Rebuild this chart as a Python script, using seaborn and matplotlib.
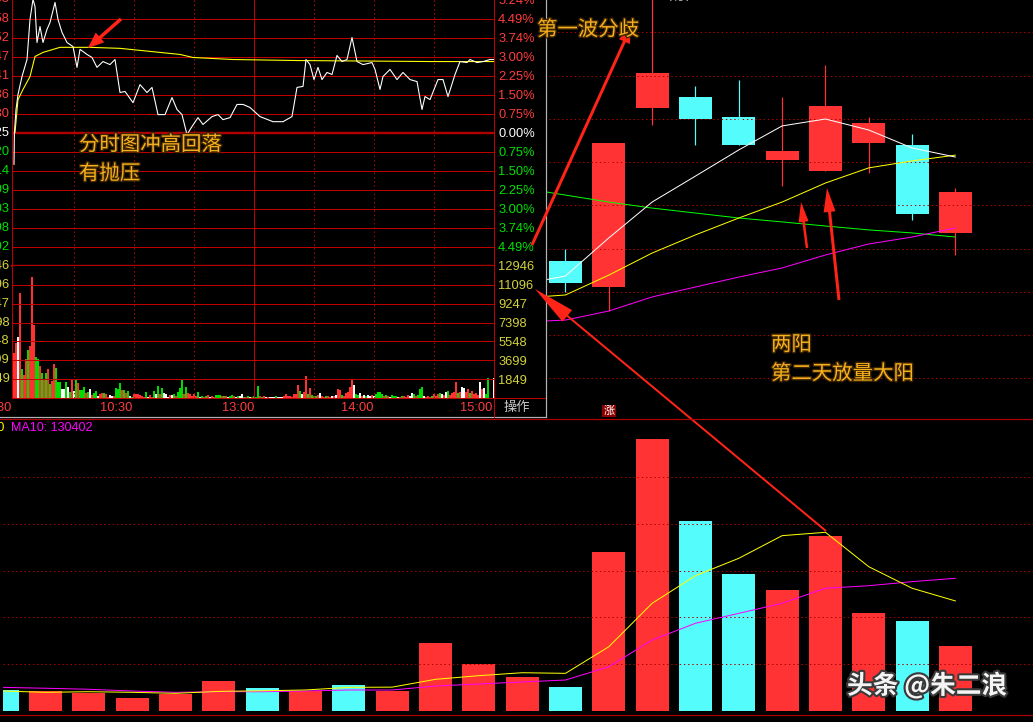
import matplotlib
matplotlib.use('Agg')
import numpy as np
import matplotlib.pyplot as plt
import matplotlib.patheffects as pe
from matplotlib.patches import FancyArrow, Rectangle
import seaborn as sns

# ─── INTRADAY DATA (minutes from 09:30, % vs previous close) ─────────────────
PREV_CLOSE = 7.25

price_min = [0, 0.2, 1, 2, 4, 6.5, 8, 9.5, 10.5, 11.5, 13, 14.5, 16.5, 18, 20.5, 22, 24,
             26.5, 29.5, 31.5, 33, 36.5, 39, 41.5, 44.5, 48, 50.5, 53, 55.5, 59.5, 63,
             66.5, 69, 72, 75.5, 79, 81.5, 84, 86.5, 89, 92, 94.5, 99, 102, 104.5, 108,
             111.5, 114.5, 118, 123, 129.5, 134.5, 139, 141.5, 144.5, 146, 148, 150, 152,
             154, 156.5, 159, 161.5, 164, 166.5, 169, 171.5, 174.5, 179, 180.5, 183,
             184.5, 188, 191.5, 194.5, 198, 201.5, 204, 205.5, 208, 212, 214.5, 217,
             220.5, 223, 226.5, 228, 231.5, 234.5, 238, 240]
price_pct = [-1.26, 0.00, 0.91, 1.50, 2.21, 2.88, 4.46, 5.25, 4.97, 3.55, 4.18, 3.55, 4.07,
             4.34, 5.13, 4.46, 3.95, 3.55, 3.39, 2.57, 3.28, 3.08, 2.96, 2.57, 2.80, 2.68,
             2.88, 1.58, 1.62, 1.18, 1.89, 1.58, 1.78, 0.71, 0.71, 1.38, 0.91, 0.71, -0.08,
             0.24, 0.59, 0.32, 0.63, 0.71, 0.51, 0.59, 1.11, 1.11, 0.99, 0.63, 0.43, 0.43,
             0.63, 1.78, 1.82, 2.88, 2.68, 2.09, 2.57, 2.09, 2.37, 2.29, 3.04, 2.80, 2.88,
             3.75, 2.80, 2.68, 2.76, 2.49, 1.70, 2.21, 2.49, 2.09, 2.37, 2.09, 2.01, 0.91,
             1.42, 1.30, 2.09, 2.09, 1.42, 2.29, 2.80, 2.76, 2.88, 2.76, 2.80, 2.88, 2.88]

avg_min = [0.5, 2, 4.5, 8, 10.5, 14.5, 23, 38, 53, 68, 83, 89.5, 109.5, 141.5, 209, 240]
avg_pct = [0.00, 1.30, 1.70, 2.21, 3.00, 3.16, 3.36, 3.36, 3.32, 3.20, 3.08, 2.96, 2.88,
           2.84, 2.80, 2.80]

# one bar per minute (0..240), colour code r/g/w
ivol = [4400, 5380, 5970, 10270, 2840, 2250, 3810, 4690, 5090, 11830,
        7140, 4010, 3810, 3130, 2450, 1860, 2450, 2840, 1370, 1660,
        3330, 2930, 1560, 1560, 880, 880, 1560, 1080, 590, 1860,
        710, 1790, 1540, 810, 810, 1140, 490, 650,
        910, 330, 490, 720, 260, 390, 490, 560, 390, 170,
        330, 230, 260, 1050, 910, 1470, 820, 820, 490, 720,
        260, 170, 390, 390, 390, 330, 260, 130, 590, 170,
        330, 170, 720, 390, 1240, 390, 1050, 490, 390, 170,
        330, 330, 390, 260, 590, 1050, 1890, 390, 1140, 490,
        390, 260, 390, 260, 590, 170, 260, 170, 260, 330,
        170, 230, 170, 330, 330, 330, 230, 200, 260, 130,
        260, 330, 200, 170, 260, 230, 390, 170, 170, 260,
        170, 170, 230, 170, 1240, 260, 130, 200, 130, 130,
        130, 130, 130, 230, 130, 130, 170, 200, 390, 260,
        260, 170, 390, 390, 1300, 720, 390, 650, 2180, 390,
        980, 330, 260, 260, 330, 490, 260, 170, 260, 230,
        170, 260, 260, 330, 910, 820, 330, 260, 490, 650,
        1140, 1860, 1300, 390, 330, 490, 230, 330, 260, 330,
        260, 330, 230, 390, 590, 650, 390, 230, 330, 260,
        170, 330, 260, 260, 170, 170, 230, 260, 170, 330,
        230, 490, 390, 260, 330, 910, 1140, 260, 170, 230,
        170, 260, 390, 260, 390, 490, 390, 330, 590, 720,
        330, 490, 650, 1560, 490, 650, 1140, 980, 650, 910,
        490, 720, 390, 490, 330, 1560, 910, 980, 390, 2020,
        70, 70, 2020]
ivol_col = ("rrwrgrrgrr" "rggrgrgrgr" "rgggwwgwgr" "wgrgggrg"
            "wrggwrrgrr" "wwrgggrgrg" "wgrrrrrrgw" "rrgwgrgwww" "rwgrgggrgr"
            "rrrrgwgrgr" "wrrgggrgrw" "ggrwgwwgrg" "wrgggrgrwr" "wwwgwwwrrr"
            "rrrrrgwrrg" "rgrgrwrrgr" "rwrwrrgrrr" "rrwggwrwgw" "wrwggggrgr"
            "wgggwrgrrr" "wwgrgggwrr" "rgrrrgwrwg" "rrrrgrwwrr" "grrrrwrwgg" "www")

time_ticks = [-1, 59, 120, 180, 239]
time_labels = ['09:30', '10:30', '13:00', '14:00', '15:00']
pct_labels = ['5.24%', '4.49%', '3.74%', '3.00%', '2.25%', '1.50%', '0.75%', '0.00%',
              '0.75%', '1.50%', '2.25%', '3.00%', '3.74%', '4.49%']
ivol_ticks = [1849, 3699, 5548, 7398, 9247, 11096, 12946]

# ─── DAILY DATA (bar slots 0..22, candles visible for slots 13..22) ──────────
k_slot = list(range(13, 23))
k_open = [6.74, 6.62, 7.45, 7.50, 7.41, 7.21, 7.16, 7.29, 7.28, 6.87]
k_high = [6.80, 7.29, 7.97, 7.55, 7.58, 7.50, 7.65, 7.41, 7.33, 7.08]
k_low = [6.60, 6.51, 7.37, 7.28, 7.28, 7.09, 7.16, 7.15, 6.93, 6.77]
k_close = [6.64, 7.29, 7.61, 7.40, 7.28, 7.25, 7.46, 7.38, 6.96, 7.06]

ma_slot = list(range(12, 23))
k_ma5 = [6.635, 6.673, 6.849, 7.015, 7.135, 7.256, 7.367, 7.399, 7.348, 7.265, 7.223]
k_ma10 = [6.571, 6.585, 6.677, 6.779, 6.863, 6.941, 7.015, 7.103, 7.173, 7.205, 7.232]
k_ma20 = [6.460, 6.469, 6.511, 6.576, 6.622, 6.668, 6.710, 6.770, 6.821, 6.853, 6.895]
k_ma60 = [7.080, 7.047, 7.015, 6.987, 6.964, 6.941, 6.923, 6.904, 6.886, 6.872, 6.853]

vol = [20400, 19400, 17700, 12100, 16400, 29300, 22700, 19400, 25300, 19400, 66700,
       46300, 33500, 23300, 155900, 267600, 186900, 134600, 118900, 172100, 96200,
       88400, 63700]
vol_up = [0, 1, 1, 1, 1, 1, 0, 1, 0, 1, 1, 1, 1, 0, 1, 1, 0, 0, 1, 1, 1, 0, 1]
vol_ma5 = [19400, 18100, 18700, 18100, 17100, 19000, 19600, 20400, 23000, 23200, 30900,
           34500, 37400, 36800, 63000, 105800, 133000, 150100, 172400, 175700, 141800,
           120600, 108100]
vol_ma10 = [23000, 22100, 21100, 19400, 18100, 18700, 18700, 19400, 20400, 20400, 24300,
            26300, 28300, 30200, 43300, 69600, 86100, 95900, 105800, 120600, 123100,
            127100, 130400]

# ─── STYLE ────────────────────────────────────────────────────────────────────
W, H = 1033, 722
PX = 0.72            # one pixel in points
RED, CYAN = '#ff3333', '#54fcfc'
GRID = '#c00000'
BAR_COL = {'r': '#ff3232', 'g': '#00dc00', 'w': '#ffffff'}
CN = ['Noto Sans CJK SC', 'DejaVu Sans']

sns.set_theme(style='dark')
plt.rcParams['font.family'] = ['Liberation Sans', 'Noto Sans CJK SC', 'DejaVu Sans']
plt.rcParams['axes.unicode_minus'] = False


def box(x0, y0, x1, y1):
    return [x0 / W, 1 - y1 / H, (x1 - x0) / W, (y1 - y0) / H]


def clean(ax):
    ax.set_facecolor('black')
    ax.grid(False)
    ax.set_xticks([])
    ax.set_yticks([])
    ax.set_xlabel('')
    ax.set_ylabel('')
    for s in ax.spines.values():
        s.set_visible(False)


def line(ax, x, y, color, lw=1.0):
    sns.lineplot(x=x, y=y, ax=ax, color=color, linewidth=lw * PX,
                 estimator=None, sort=False, legend=False)


fig = plt.figure(figsize=(W / 100, H / 100), dpi=100, facecolor='black')
slot_lim = ((3 - 2.2) / 43.33, (W - 2.2) / 43.33)
dots = (0, (1.4, 2.8))

# ─── DAILY K-LINE PANE ────────────────────────────────────────────────────────
ax_k = fig.add_axes(box(3, 0, W, 419))
for lv in [7.8, 7.6, 7.4, 7.2, 7.0, 6.8, 6.6, 6.4, 6.2]:
    ax_k.axhline(lv, color='#b00000', lw=PX, ls=dots)
for s, o, hi, lo, c in zip(k_slot, k_open, k_high, k_low, k_close):
    col = RED if c >= o else CYAN
    ax_k.vlines(s, lo, hi, color=col, lw=PX * 1.2)
    ax_k.bar(s, abs(c - o), bottom=min(o, c), width=0.76, color=col, lw=0)
line(ax_k, ma_slot, k_ma60, '#00ff00')
line(ax_k, ma_slot, k_ma20, '#ff00ff')
line(ax_k, ma_slot, k_ma10, '#ffff00')
line(ax_k, ma_slot, k_ma5, '#ffffff')
ax_k.text(15.35, 7.931, '7.97', color='#bbbbbb', fontsize=9, va='bottom')
clean(ax_k)
ax_k.set_xlim(*slot_lim)
ax_k.set_ylim(6.0114, 7.9494)

# ─── DAILY VOLUME PANE ────────────────────────────────────────────────────────
ax_v = fig.add_axes(box(3, 419, W, 715.5))
for lv in [46000, 92000, 138000, 184000, 230000]:
    ax_v.axhline(lv, color='#b00000', lw=PX, ls=dots)
ax_v.bar(np.arange(len(vol)), vol, width=0.76,
         color=[RED if u else CYAN for u in vol_up], lw=0)
line(ax_v, np.arange(len(vol)), vol_ma10, '#ff00ff')
line(ax_v, np.arange(len(vol)), vol_ma5, '#ffff00')
clean(ax_v)
ax_v.set_xlim(*slot_lim)
ax_v.set_ylim(-4730, 287300)

# ─── INTRADAY POPUP ───────────────────────────────────────────────────────────
ax_bg = fig.add_axes(box(0, 0, 546, 417))
clean(ax_bg)
ax_bg.set_zorder(5)
for side in ['right', 'bottom']:
    ax_bg.spines[side].set_visible(True)
    ax_bg.spines[side].set_color('#b4b4b4')
    ax_bg.spines[side].set_linewidth(PX * 1.2)

step = 5.245 / 7
levels = step * np.arange(7, -7, -1)

ax_p = fig.add_axes(box(12, -0.5, 494, 265.7))
ax_p.set_zorder(6)
for k in range(-6, 7):
    if k == 0:
        ax_p.axhline(0, color='#b00000', lw=PX * 2.4)
    else:
        ax_p.axhline(k * step, color=GRID, lw=PX)
for m in [30, 60, 90, 150, 180, 210]:
    ax_p.axvline(m, color=GRID, lw=PX, ls=dots)
ax_p.axvline(120, color=GRID, lw=PX)
line(ax_p, avg_min, avg_pct, '#ffff00', 1.1)
line(ax_p, price_min, price_pct, '#ffffff', 1.1)
clean(ax_p)
ax_p.set_xlim(-1, 240)
ax_p.set_ylim(-5.245, 5.245)
for side in ['left', 'right', 'bottom']:
    ax_p.spines[side].set_visible(True)
    ax_p.spines[side].set_color(GRID)
    ax_p.spines[side].set_linewidth(PX)
ax_p.spines['bottom'].set_color('#b00000')
ax_p.spines['bottom'].set_linewidth(PX * 2.4)
ax_p.yaxis.tick_right()
ax_p.set_yticks(levels, pct_labels)
ax_p.tick_params(axis='y', length=0, pad=3, labelsize=9.3)
for t, lv in zip(ax_p.get_yticklabels(), levels):
    t.set_color('#ff3c3c' if lv > 1e-6 else ('#ffffff' if abs(lv) < 1e-6 else '#00e000'))
for lv in levels:
    pr = PREV_CLOSE * (1 + lv / 100)
    col = '#ff3c3c' if lv > 1e-6 else ('#ffffff' if abs(lv) < 1e-6 else '#00e000')
    ax_p.text(-0.005, lv, f'{pr:.2f}', transform=ax_p.get_yaxis_transform(),
              ha='right', va='center', fontsize=9.3, color=col, clip_on=False)

ax_iv = fig.add_axes(box(12, 265.7, 494, 398.3))
ax_iv.set_zorder(6)
for lv in ivol_ticks[:-1]:
    ax_iv.axhline(lv, color=GRID, lw=PX)
for m in [30, 60, 90, 150, 180, 210]:
    ax_iv.axvline(m, color=GRID, lw=PX, ls=dots)
ax_iv.axvline(120, color=GRID, lw=PX)
ax_iv.bar(np.arange(len(ivol)), ivol, width=0.55,
          color=[BAR_COL[c] for c in ivol_col], lw=0)
clean(ax_iv)
ax_iv.set_xlim(-1, 240)
ax_iv.set_ylim(0, 12946)
for side in ['left', 'right', 'bottom']:
    ax_iv.spines[side].set_visible(True)
    ax_iv.spines[side].set_color(GRID)
    ax_iv.spines[side].set_linewidth(PX)
ax_iv.yaxis.tick_right()
ax_iv.set_yticks(ivol_ticks, [str(v) for v in ivol_ticks])
ax_iv.tick_params(axis='y', length=0, pad=3, labelsize=9.3, labelcolor='#d2d23c')
for v in ivol_ticks:
    ax_iv.text(-0.005, v, str(v), transform=ax_iv.get_yaxis_transform(),
               ha='right', va='center', fontsize=9.3, color='#d2d23c', clip_on=False)
ax_iv.set_xticks(time_ticks, time_labels)
ax_iv.tick_params(axis='x', length=0, pad=3, labelsize=9.3, labelcolor='#ff3c3c')
for t in ax_iv.get_xticklabels():
    t.set_ha('right')

# ─── OVERLAY: borders, notes, arrows ──────────────────────────────────────────
ax_o = fig.add_axes([0, 0, 1, 1])
ax_o.set_xlim(0, W)
ax_o.set_ylim(H, 0)
ax_o.axis('off')
ax_o.patch.set_visible(False)
ax_o.set_zorder(20)

ax_o.plot([494, 545], [398.3, 398.3], color=GRID, lw=PX)
ax_o.plot([494, 494], [398.3, 416.5], color=GRID, lw=PX)
ax_o.plot([0, W], [419.2, 419.2], color='#b00000', lw=PX * 1.2)
ax_o.plot([0, W], [715.2, 715.2], color='#b00000', lw=PX * 1.2)
ax_o.text(517, 407, '操作', color='#c8c8c8', fontsize=9.5, family=CN,
          ha='center', va='center')
ax_o.add_patch(Rectangle((602, 405), 14, 12, color='#8c0000', lw=0))
ax_o.text(609, 411, '涨', color='white', fontsize=8, family=CN, ha='center', va='center')
ax_o.text(11, 428, 'MA10: 130402', color='#ff00ff', fontsize=9, va='center')
ax_o.text(4, 428, 'MA5: 108160', color='#ffff00', fontsize=9, va='center', ha='right')

gold = dict(color='#f6b01e', fontsize=14.7, family=CN, va='center', ha='left',
            path_effects=[pe.withStroke(linewidth=2, foreground='#3c2400')])
ax_o.text(537, 30, '第一波分歧', **gold)
ax_o.text(79, 145, '分时图冲高回落', **gold)
ax_o.text(79, 174, '有抛压', **gold)
ax_o.text(771, 345, '两阳', **gold)
ax_o.text(771, 374, '第二天放量大阳', **gold)


def arrow(x0, y0, x1, y1, w, hw, hl):
    ax_o.add_patch(FancyArrow(x0, y0, x1 - x0, y1 - y0, width=w, head_width=hw,
                              head_length=hl, length_includes_head=True,
                              color='#ff2418', lw=0))


arrow(121, 19, 88, 48, 3.5, 13, 16)
arrow(532, 245, 631, 27, 3.0, 12, 16)
arrow(826, 531, 535, 289, 2.0, 15, 42)
arrow(807, 248, 801, 202, 2.5, 10, 20)
arrow(839, 300, 827, 188, 3.0, 12, 24)

ax_o.text(847, 686, '头条 @朱二浪', color='#f4f4f4', fontsize=18.5, fontweight='bold',
          family=CN, va='center', ha='left',
          path_effects=[pe.withStroke(linewidth=3, foreground='#3a3a3a')])

fig.savefig('out.png', dpi=100, facecolor='black')
